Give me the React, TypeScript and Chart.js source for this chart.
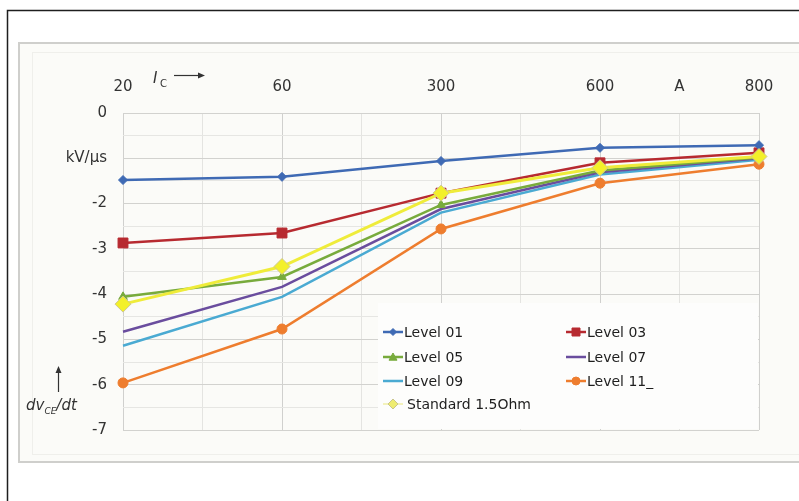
import React, { useEffect, useRef } from 'react';
import { Chart, registerables } from 'chart.js';

Chart.register(...registerables);

// x-axis slots (as in the original spreadsheet chart) and measured currents
const axisLabels = ['20', '', '60', '', '300', '', '600', 'A', '800'];
const currents = ['20', '60', '300', '600', '800'];

// y tick labels for values 0, -1, ..., -7
const yTickLabels = ['0', 'kV/µs', '-2', '-3', '-4', '-5', '-6', '-7'];

// series values (kV/µs)
const level01 = [-1.48, -1.41, -1.06, -0.77, -0.71];
const level03 = [-2.87, -2.65, -1.77, -1.1, -0.88];
const level05 = [-4.06, -3.62, -2.03, -1.27, -0.98];
const level07 = [-4.83, -3.84, -2.12, -1.31, -1.0];
const level09 = [-5.14, -4.06, -2.2, -1.36, -1.03];
const level11 = [-5.96, -4.77, -2.56, -1.55, -1.13];
const standard = [-4.22, -3.39, -1.77, -1.21, -0.96];

const seriesNames = ['Level 01', 'Level 03', 'Level 05', 'Level 07', 'Level 09', 'Level 11_', 'Standard 1.5Ohm'];

const FONT = 'DejaVu Sans';

function drawMarker(ctx: CanvasRenderingContext2D, style: string, x: number, y: number, r: number, fill: string, stroke: string) {
  ctx.save();
  ctx.fillStyle = fill;
  ctx.strokeStyle = stroke;
  ctx.lineWidth = 1;
  ctx.beginPath();
  if (style === 'rectRot') {
    ctx.moveTo(x, y - r);
    ctx.lineTo(x + r, y);
    ctx.lineTo(x, y + r);
    ctx.lineTo(x - r, y);
    ctx.closePath();
  } else if (style === 'rect') {
    ctx.rect(x - r, y - r, 2 * r, 2 * r);
  } else if (style === 'triangle') {
    ctx.moveTo(x, y - r);
    ctx.lineTo(x + r, y + r * 0.8);
    ctx.lineTo(x - r, y + r * 0.8);
    ctx.closePath();
  } else if (style === 'circle') {
    ctx.arc(x, y, r, 0, Math.PI * 2);
  } else {
    ctx.restore();
    return;
  }
  ctx.fill();
  ctx.stroke();
  ctx.restore();
}

const backgroundPlugin = {
  id: 'bgFrame',
  beforeDraw(chart: any) {
    const { ctx, width, height } = chart;
    ctx.save();
    ctx.fillStyle = '#ffffff';
    ctx.fillRect(0, 0, width, height);
    // outer frame
    ctx.strokeStyle = '#1e1e1e';
    ctx.lineWidth = 1.5;
    ctx.beginPath();
    ctx.moveTo(7.5, height + 2);
    ctx.lineTo(7.5, 10.5);
    ctx.lineTo(width + 2, 10.5);
    ctx.stroke();
    // grey panel
    ctx.fillStyle = '#fbfbf8';
    ctx.fillRect(19, 43, width - 19, 419);
    ctx.strokeStyle = '#cfcfcc';
    ctx.lineWidth = 2;
    ctx.strokeRect(19, 43, width + 10, 419);
    ctx.strokeStyle = '#efefeb';
    ctx.lineWidth = 1;
    ctx.strokeRect(32.5, 52.5, width + 10, 402);
    ctx.restore();
  },
};

const overlayPlugin = {
  id: 'overlay',
  afterDraw(chart: any) {
    const { ctx } = chart;
    ctx.save();
    // legend box
    ctx.fillStyle = '#fdfdfc';
    ctx.fillRect(378, 303, 380, 126);

    const ds = chart.data.datasets;
    const items = [
      { i: 0, col: 0, row: 0 },
      { i: 1, col: 1, row: 0 },
      { i: 2, col: 0, row: 1 },
      { i: 3, col: 1, row: 1 },
      { i: 4, col: 0, row: 2 },
      { i: 5, col: 1, row: 2 },
      { i: 6, col: 0, row: 3 },
    ];
    const colX = [383, 566];
    const rowY = [332, 357, 381, 404];
    ctx.font = `14px "${FONT}"`;
    ctx.textBaseline = 'middle';
    ctx.textAlign = 'left';
    for (const it of items) {
      const d = ds[it.i];
      const x0 = colX[it.col];
      const y = rowY[it.row];
      const isStd = it.i === 6;
      ctx.strokeStyle = isStd ? 'rgba(230,226,110,0.6)' : d.borderColor;
      ctx.lineWidth = isStd ? 1.5 : 2.5;
      ctx.beginPath();
      ctx.moveTo(x0, y);
      ctx.lineTo(x0 + 20, y);
      ctx.stroke();
      const ms = d.legendMarker;
      if (ms) drawMarker(ctx, ms.style, x0 + 10, y, ms.r, ms.fill, ms.stroke);
      ctx.fillStyle = '#1e1e1e';
      ctx.fillText(d.label, x0 + (isStd ? 24 : 21), y + 1);
    }

    // axis titles
    ctx.fillStyle = '#333333';
    ctx.textBaseline = 'alphabetic';
    ctx.font = `italic 15px "${FONT}"`;
    ctx.fillText('I', 153, 83);
    ctx.font = `10px "${FONT}"`;
    ctx.fillText('C', 160, 87);
    ctx.strokeStyle = '#333333';
    ctx.lineWidth = 1.2;
    ctx.beginPath();
    ctx.moveTo(174, 75.5);
    ctx.lineTo(201, 75.5);
    ctx.stroke();
    ctx.fillStyle = '#333333';
    ctx.beginPath();
    ctx.moveTo(205, 75.5);
    ctx.lineTo(198, 72.5);
    ctx.lineTo(198, 78.5);
    ctx.closePath();
    ctx.fill();

    // dv/dt title
    let x = 26;
    ctx.font = `italic 15px "${FONT}"`;
    ctx.fillText('dv', x, 410);
    x += ctx.measureText('dv').width;
    ctx.font = `italic 9px "${FONT}"`;
    ctx.fillText('CE', x, 414);
    x += ctx.measureText('CE').width;
    ctx.font = `italic 15px "${FONT}"`;
    ctx.fillText('/dt', x, 410);
    // up arrow
    ctx.beginPath();
    ctx.moveTo(58.5, 392);
    ctx.lineTo(58.5, 372);
    ctx.stroke();
    ctx.beginPath();
    ctx.moveTo(58.5, 366);
    ctx.lineTo(55.5, 373);
    ctx.lineTo(61.5, 373);
    ctx.closePath();
    ctx.fill();
    ctx.restore();
  },
};

function toPoints(values: number[]) {
  return values.map((v, i) => ({ x: currents[i], y: v }));
}

export default function App() {
  const ref = useRef<HTMLCanvasElement | null>(null);

  useEffect(() => {
    document.body.style.margin = '0';
    const canvas = ref.current;
    if (!canvas) return;
    const mk = (
      label: string,
      values: number[],
      color: string,
      pointStyle: any,
      radius: number,
      order: number,
      legendMarker: any,
      pointBg?: string,
      pointBorder?: string,
      width = 2.5
    ) => ({
      label,
      data: toPoints(values),
      borderColor: color,
      backgroundColor: pointBg || color,
      pointBackgroundColor: pointBg || color,
      pointBorderColor: pointBorder || color,
      pointBorderWidth: 1,
      borderWidth: width,
      pointStyle,
      pointRadius: radius,
      pointHoverRadius: radius,
      tension: 0,
      order,
      legendMarker,
    });

    const datasets: any[] = [
      mk(seriesNames[0], level01, '#3f6ab4', 'rectRot', 4.5, 2, { style: 'rectRot', r: 3.5, fill: '#3f6ab4', stroke: '#3f6ab4' }),
      mk(seriesNames[1], level03, '#b72a30', 'rect', 7, 3, { style: 'rect', r: 4, fill: '#b72a30', stroke: '#b72a30' }),
      mk(seriesNames[2], level05, '#78ab3c', 'triangle', 5, 4, { style: 'triangle', r: 4, fill: '#78ab3c', stroke: '#78ab3c' }),
      mk(seriesNames[3], level07, '#6a4d9e', false, 0, 5, null),
      mk(seriesNames[4], level09, '#4aaad2', false, 0, 6, null),
      mk(seriesNames[5], level11, '#ee7d2e', 'circle', 5, 7, { style: 'circle', r: 4, fill: '#ee7d2e', stroke: '#ee7d2e' }),
      mk(seriesNames[6], standard, '#efec3a', 'rectRot', 8, 1, { style: 'rectRot', r: 5, fill: '#eeec70', stroke: '#c9c58c' }, '#f3f02a', '#cfc98e', 3),
    ];

    const chart = new Chart(canvas, {
      type: 'line',
      data: { labels: axisLabels, datasets },
      plugins: [backgroundPlugin, overlayPlugin],
      options: {
        animation: false,
        responsive: false,
        devicePixelRatio: 1,
        layout: { padding: { left: 0, top: 0, right: 40, bottom: 71 } },
        plugins: { legend: { display: false }, tooltip: { enabled: false } },
        scales: {
          x: {
            type: 'category',
            position: 'top',
            offset: false,
            afterFit: (s: any) => {
              s.height = 113;
            },
            border: { display: false },
            grid: {
              drawTicks: false,
              color: (c: any) => (axisLabels[c.index] && axisLabels[c.index] !== 'A' ? '#d0d0ce' : '#e4e4e1'),
              lineWidth: 1,
            },
            ticks: {
              autoSkip: false,
              maxRotation: 0,
              padding: 17,
              color: '#333333',
              font: { family: FONT, size: 15 },
            },
          },
          y: {
            type: 'linear',
            min: -7,
            max: 0,
            afterFit: (s: any) => {
              s.width = 123;
            },
            border: { display: false },
            grid: {
              drawTicks: false,
              color: (c: any) => (Number.isInteger(c.tick.value) ? '#d2d2cf' : '#e6e6e3'),
              lineWidth: 1,
            },
            ticks: {
              stepSize: 0.5,
              padding: 16,
              color: '#333333',
              font: { family: FONT, size: 15 },
              callback: (value: any) => {
                const v = Number(value);
                if (!Number.isInteger(v)) return '';
                return yTickLabels[-v] ?? '';
              },
            },
          },
        },
      } as any,
    });
    return () => chart.destroy();
  }, []);

  return (
    <div style={{ width: 799, height: 501 }}>
      <canvas ref={ref} width={799} height={501} style={{ display: 'block', width: 799, height: 501 }} />
    </div>
  );
}
